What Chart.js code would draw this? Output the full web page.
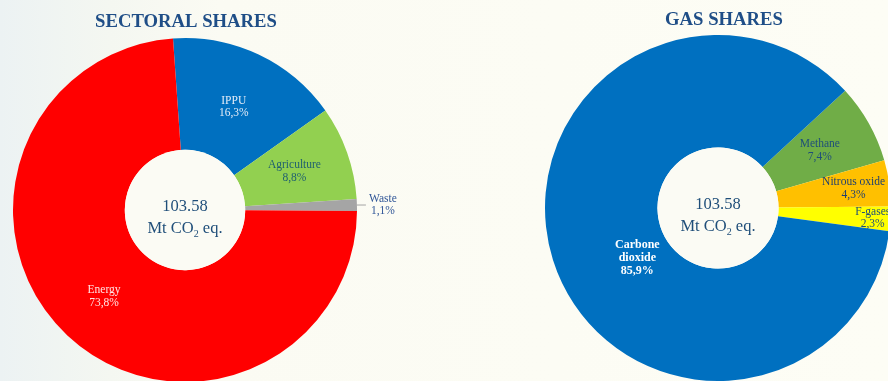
<!DOCTYPE html>
<html>
<head>
<meta charset="utf-8">
<script src="https://cdn.jsdelivr.net/npm/chart.js@4.4.1/dist/chart.umd.min.js"></script>
<style>
  html, body { margin: 0; padding: 0; }
  body {
    width: 888px; height: 381px; overflow: hidden; position: relative;
    background: linear-gradient(to right, #ecf2f3 0px, #f4f7f1 110px, #fbfbf3 220px, #fdfdf5 100%);
  }
  canvas { position: absolute; top: 0; }
  #sectorChart { left: 0; }
  #gasChart { left: 444px; }
</style>
</head>
<body>
<canvas id="sectorChart" width="444" height="400"></canvas>
<canvas id="gasChart" width="500" height="400"></canvas>
<script>
const totalEmissions = '103.58';

const sectorLabels = ['IPPU', 'Agriculture', 'Waste', 'Energy'];
const sectorShares = [16.3, 8.8, 1.1, 73.8];
const sectorColors = ['#0070c0', '#92d050', '#a5a5a5', '#ff0000'];

const gasLabels = ['Methane', 'Nitrous oxide', 'F-gases', 'Carbone dioxide'];
const gasShares = [7.4, 4.3, 2.3, 85.9];
const gasColors = ['#70ad47', '#ffc000', '#ffff00', '#0070c0'];

const SERIF = '"Liberation Serif", "Times New Roman", serif';

function fmt(v) {
  return v.toFixed(1).replace('.', ',') + '%';
}

// draws title, hole, centre total and slice labels
const donutText = {
  id: 'donutText',
  afterDatasetsDraw(chart, args, opts) {
    const ctx = chart.ctx;
    const meta = chart.getDatasetMeta(0);
    const arc0 = meta.data[0];
    const cx = arc0.x, cy = arc0.y;
    const inner = arc0.innerRadius, outer = arc0.outerRadius;

    ctx.save();
    // hole
    ctx.fillStyle = '#fbfbf4';
    ctx.beginPath();
    ctx.arc(cx, cy, inner, 0, Math.PI * 2);
    ctx.fill();

    ctx.textAlign = 'center';
    ctx.textBaseline = 'middle';

    // title
    ctx.fillStyle = '#1f4e87';
    ctx.font = 'bold 18.7px ' + SERIF;
    ctx.fillText(opts.title, cx + opts.titleDx, opts.titleY);

    // centre text
    ctx.fillStyle = '#1f4e79';
    ctx.font = '16.5px ' + SERIF;
    ctx.fillText(totalEmissions, cx, cy - 3);
    const a = 'Mt CO', b = ' eq.';
    const wa = ctx.measureText(a).width, wb = ctx.measureText(b).width;
    ctx.font = '10px ' + SERIF;
    const ws = ctx.measureText('2').width;
    let x = cx - (wa + ws + wb) / 2;
    ctx.textAlign = 'left';
    ctx.font = '16.5px ' + SERIF;
    ctx.fillText(a, x, cy + 19);
    ctx.font = '10px ' + SERIF;
    ctx.fillText('2', x + wa, cy + 24);
    ctx.font = '16.5px ' + SERIF;
    ctx.fillText(b, x + wa + ws, cy + 19);
    ctx.textAlign = 'center';

    // slice labels
    const labels = chart.data.labels;
    const values = chart.data.datasets[0].data;
    meta.data.forEach((arc, i) => {
      const st = opts.labels[i];
      const mid = (arc.startAngle + arc.endAngle) / 2;
      let lines = st.split ? st.split : [labels[i]];
      lines = lines.concat([fmt(values[i])]);
      ctx.fillStyle = st.color;
      ctx.font = (st.bold ? 'bold 12px ' : '11.5px ') + SERIF;
      let lx, ly;
      if (st.outside) {
        const ex = cx + outer * Math.cos(mid), ey = cy + outer * Math.sin(mid);
        ctx.strokeStyle = '#a5a5a5';
        ctx.lineWidth = 1;
        ctx.beginPath();
        ctx.moveTo(ex, ey);
        ctx.lineTo(ex + 9, ey);
        ctx.stroke();
        lx = ex + 26;
        ly = ey;
      } else {
        const r = inner + (outer - inner) * st.f;
        lx = cx + r * Math.cos(mid) + (st.dx || 0);
        ly = cy + r * Math.sin(mid) + (st.dy || 0);
      }
      const lh = st.bold ? 13 : 12.5;
      const y0 = ly - (lines.length - 1) * lh / 2;
      lines.forEach((t, k) => ctx.fillText(t, lx, y0 + k * lh));
    });
    ctx.restore();
  }
};

function makeDonut(id, labels, data, colors, rotation, padding, textOpts) {
  return new Chart(document.getElementById(id), {
    type: 'doughnut',
    data: {
      labels: labels,
      datasets: [{
        data: data,
        backgroundColor: colors,
        borderWidth: 0,
        hoverOffset: 0
      }]
    },
    options: {
      responsive: false,
      animation: false,
      rotation: rotation,
      cutout: '35%',
      layout: { padding: padding },
      plugins: {
        legend: { display: false },
        tooltip: { enabled: false },
        donutText: textOpts
      }
    },
    plugins: [donutText]
  });
}

makeDonut('sectorChart', sectorLabels, sectorShares, sectorColors, -4,
  { left: 13, right: 87, top: 38, bottom: 18 },
  {
    title: 'SECTORAL SHARES', titleY: 22, titleDx: 1,
    labels: [
      { color: '#e4ecf7', f: 0.48 },
      { color: '#1f5f6f', f: 0.5 },
      { color: '#2f5597', outside: true },
      { color: '#ffe4e4', f: 0.52 }
    ]
  });

makeDonut('gasChart', gasLabels, gasShares, gasColors, 47.3,
  { left: 101, right: 53, top: 35, bottom: 19 },
  {
    title: 'GAS SHARES', titleY: 20, titleDx: 6,
    labels: [
      { color: '#1f4e79', f: 0.5 },
      { color: '#1f3f6f', f: 0.68 },
      { color: '#1f4e79', f: 0.84 },
      { color: '#ffffff', f: 0.4, bold: true, split: ['Carbone', 'dioxide'], dx: 20, dy: 18 }
    ]
  });
</script>
</body>
</html>
